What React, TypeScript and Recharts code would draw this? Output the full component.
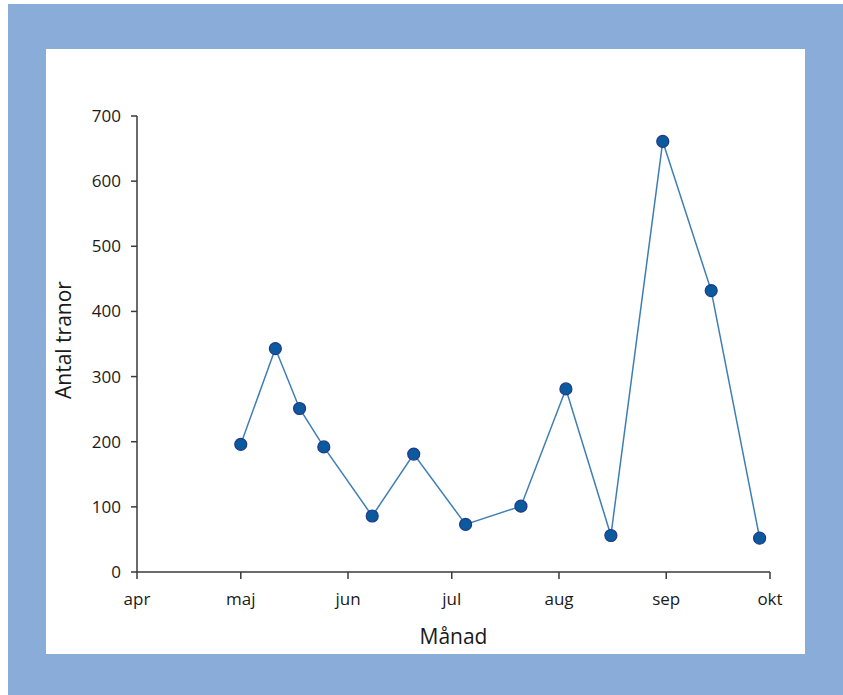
import React from 'react';
import { LineChart, Line, XAxis, YAxis, Label } from 'recharts';

// day number counted from 1 april
const observationDays = [30, 40, 47, 54, 68, 80, 95, 111, 124, 137, 152, 166, 180];
const craneCounts = [196, 343, 251, 192, 86, 181, 73, 101, 281, 56, 661, 432, 52];

const monthTicks = [0, 30, 61, 91, 122, 153, 183];
const monthLabels = ['apr', 'maj', 'jun', 'jul', 'aug', 'sep', 'okt'];
const countTicks = [0, 100, 200, 300, 400, 500, 600, 700];

const data = observationDays.map((day, i) => ({ day, count: craneCounts[i] }));

const FONT = '"Open Sans", sans-serif';
const AXIS = '#3a3a3a';

const App: React.FC = () => {
  return (
    <div style={{ position: 'absolute', left: 0, top: 0, width: 843, height: 695, background: '#fff' }}>
      <div style={{ position: 'absolute', left: 8, top: 4, width: 835, height: 691, background: '#89add8' }} />
      <div style={{ position: 'absolute', left: 46, top: 49, width: 759, height: 605, background: '#fff' }}>
        <LineChart
          width={759}
          height={605}
          data={data}
          margin={{ top: 67, right: 35, left: 0, bottom: 0 }}
          style={{ fontFamily: FONT }}
        >
          <XAxis
            dataKey="day"
            type="number"
            domain={[0, 183]}
            ticks={monthTicks}
            tickFormatter={(v: number) => monthLabels[monthTicks.indexOf(v)]}
            height={82}
            stroke={AXIS}
            strokeWidth={1.5}
            tickSize={7}
            tickMargin={14}
            tick={{ fill: '#1a1a1a', fontSize: 17 }}
            interval={0}
          >
            <Label value="Månad" position="insideBottom" offset={10} fill="#1a1a1a" fontSize={21} />
          </XAxis>
          <YAxis
            type="number"
            domain={[0, 700]}
            ticks={countTicks}
            width={91}
            stroke={AXIS}
            strokeWidth={1.5}
            tickSize={6}
            tickMargin={10}
            tick={{ fill: '#1a1a1a', fontSize: 17 }}
            interval={0}
          >
            <Label
              value="Antal tranor"
              angle={-90}
              position="insideLeft"
              offset={18}
              dy={-4}
              fill="#1a1a1a"
              fontSize={21}
              style={{ textAnchor: 'middle' }}
            />
          </YAxis>
          <Line
            type="linear"
            dataKey="count"
            stroke="#3d7fb4"
            strokeWidth={1.5}
            dot={{ r: 6, fill: '#0b5a9e', stroke: '#1f3a8a', strokeWidth: 1.2 }}
            isAnimationActive={false}
          />
        </LineChart>
      </div>
    </div>
  );
};

export default App;
